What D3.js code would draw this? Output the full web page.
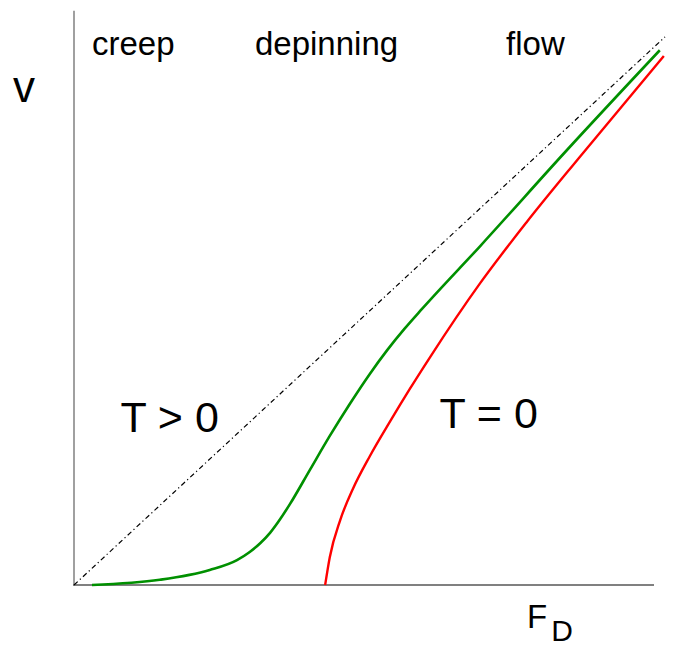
<!DOCTYPE html>
<html>
<head>
<meta charset="utf-8">
<script src="https://cdn.jsdelivr.net/npm/d3@7"></script>
<style>
  html, body { margin: 0; padding: 0; background: #fff; }
  svg { display: block; }
  text { font-family: "Liberation Sans", Arial, Helvetica, sans-serif; fill: #000; }
</style>
</head>
<body>
<svg id="chart" width="673" height="650"></svg>
<script>
// Driving force F_D (x) and velocity v (y), arbitrary units
const greenF = [0.31, 1.48, 2.34, 2.81, 3.03, 3.21, 3.38, 3.55, 3.72, 4.07, 4.41, 4.76, 5.10, 5.40, 5.70, 6.00, 7.00, 8.50, 10.10];
const greenV = [0.00, 0.09, 0.26, 0.43, 0.57, 0.72, 0.90, 1.13, 1.39, 1.99, 2.57, 3.13, 3.64, 4.05, 4.42, 4.76, 5.84, 7.50, 9.22];

const redF = [4.33, 4.41, 4.59, 4.81, 5.10, 5.45, 5.79, 6.14, 7.00, 7.80, 8.72, 10.17];
const redV = [0.00, 0.48, 1.12, 1.66, 2.22, 2.82, 3.38, 3.93, 5.20, 6.25, 7.38, 9.12];

// free-flow reference line v ∝ F
const flowF = [0, 10.19];
const flowV = [0, 9.45];

const regimeLabels = ["creep", "depinning", "flow"];
const regimeF = [0.31, 3.12, 7.45];
const tempLabels = ["T > 0", "T = 0"];
const tempF = [0.8, 6.3];
const tempV = [2.63, 2.7];

const svg = d3.select("#chart");

const x = d3.scaleLinear().domain([0, 10]).range([74, 654]);
const y = d3.scaleLinear().domain([0, 10]).range([585, 5]);

const line = d3.line()
  .x(d => x(d[0]))
  .y(d => y(d[1]))
  .curve(d3.curveMonotoneX);

// axes (plain lines, no ticks)
svg.append("line")
  .attr("x1", x(0)).attr("x2", x(0))
  .attr("y1", y(0)).attr("y2", y(9.9))
  .attr("stroke", "#808080").attr("stroke-width", 1.5);
svg.append("line")
  .attr("x1", x(0) - 1).attr("x2", x(10))
  .attr("y1", y(0)).attr("y2", y(0))
  .attr("stroke", "#808080").attr("stroke-width", 2.2);

// free-flow line
svg.append("path")
  .datum(d3.zip(flowF, flowV))
  .attr("d", d3.line().x(d => x(d[0])).y(d => y(d[1])))
  .attr("fill", "none")
  .attr("stroke", "#000")
  .attr("stroke-width", 1.2)
  .attr("stroke-dasharray", "5,3,1.2,3");

// T = 0 curve
svg.append("path")
  .datum(d3.zip(redF, redV))
  .attr("d", line)
  .attr("fill", "none")
  .attr("stroke", "#ff0000")
  .attr("stroke-width", 2.4);

// T > 0 curve
svg.append("path")
  .datum(d3.zip(greenF, greenV))
  .attr("d", line)
  .attr("fill", "none")
  .attr("stroke", "#009000")
  .attr("stroke-width", 2.6);

// regime labels
svg.selectAll("text.regime")
  .data(regimeLabels)
  .join("text")
  .attr("class", "regime")
  .attr("x", (d, i) => x(regimeF[i]))
  .attr("y", 55)
  .attr("font-size", 33)
  .text(d => d);

// temperature labels
svg.selectAll("text.temp")
  .data(tempLabels)
  .join("text")
  .attr("class", "temp")
  .attr("x", (d, i) => x(tempF[i]))
  .attr("y", (d, i) => y(tempV[i]))
  .attr("font-size", 43)
  .text(d => d);

// axis titles
svg.append("text")
  .attr("x", 13).attr("y", 102)
  .attr("font-size", 44)
  .text("v");

const fd = svg.append("text")
  .attr("x", 527).attr("y", 628)
  .attr("font-size", 33);
fd.append("tspan").text("F");
fd.append("tspan").attr("font-size", 30).attr("dx", 4).attr("dy", 13).text("D");
</script>
</body>
</html>
